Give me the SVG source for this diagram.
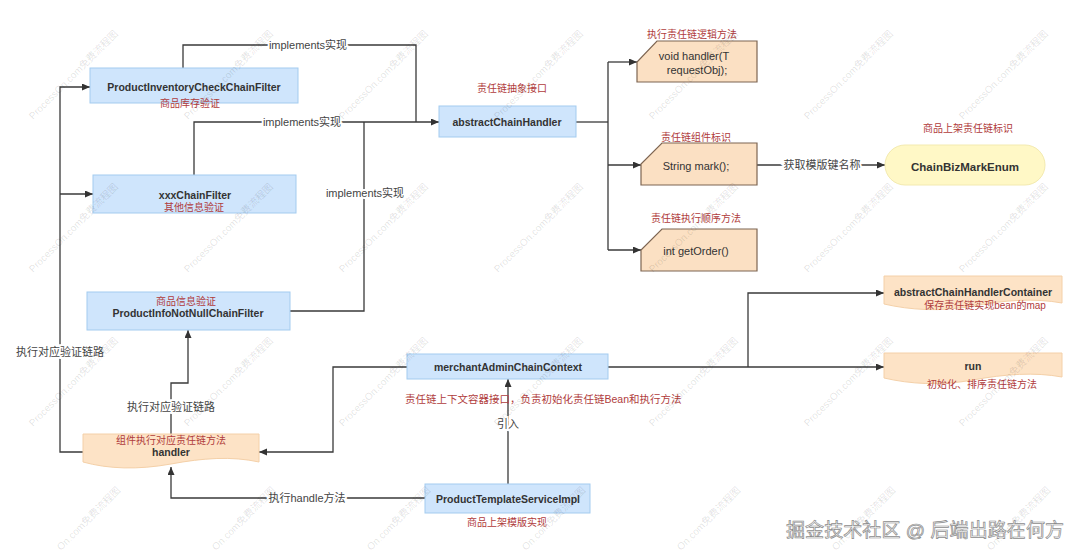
<svg xmlns="http://www.w3.org/2000/svg" width="1080" height="555" viewBox="0 0 1080 555">
<style>
text{font-family:"Liberation Sans","Noto Sans CJK SC",sans-serif}
.b{font-weight:bold;font-size:10.5px;fill:#333;text-anchor:middle}
.r{font-size:10px;fill:#b03c3c;text-anchor:middle}
.n{font-size:11px;fill:#333;text-anchor:middle}
.lb{font-size:11px;fill:#444;text-anchor:middle;stroke:#fff;stroke-width:4px;paint-order:stroke}
.blue{fill:#cfe5fc;stroke:#a3cbef;stroke-width:1}
.card{fill:#fbe0c3;stroke:#7d6552;stroke-width:1.2}
.doc{fill:#fde3c6;stroke:#f4d0a8;stroke-width:1}
.ln{fill:none;stroke:#3a3a3a;stroke-width:1.3}
.wm{font-size:10px;fill:#000;fill-opacity:0.12}
</style>
<defs>
<marker id="ar" markerWidth="9" markerHeight="8" refX="8" refY="3.5" orient="auto" markerUnits="userSpaceOnUse">
<path d="M0,0 L8,3.5 L0,7 z" fill="#333"/>
</marker>
</defs>
<rect width="1080" height="555" fill="#fff"/>

<g id="connectors">
<path class="ln" d="M183,68 V45 H416 V122"/>
<path class="ln" d="M194,175 V122 H439" marker-end="url(#ar)"/>
<path class="ln" d="M290,311 H364 V122"/>
<path class="ln" d="M576,122 H608"/>
<path class="ln" d="M608,62 V250"/>
<path class="ln" d="M608,62 H637" marker-end="url(#ar)"/>
<path class="ln" d="M608,165 H641" marker-end="url(#ar)"/>
<path class="ln" d="M608,250 H641" marker-end="url(#ar)"/>
<path class="ln" d="M757,165 H885" marker-end="url(#ar)"/>
<path class="ln" d="M83,452 H60 V87 H90" marker-end="url(#ar)"/>
<path class="ln" d="M60,194 H93" marker-end="url(#ar)"/>
<path class="ln" d="M171,434 V383 H188 V330" marker-end="url(#ar)"/>
<path class="ln" d="M425,498 H171 V467" marker-end="url(#ar)"/>
<path class="ln" d="M407,367 H333 V452 H259" marker-end="url(#ar)"/>
<path class="ln" d="M508,484 V379" marker-end="url(#ar)"/>
<path class="ln" d="M608,367 H884" marker-end="url(#ar)"/>
<path class="ln" d="M748,367 V293 H884" marker-end="url(#ar)"/>
<text class="lb" x="308" y="49">implements实现</text>
<text class="lb" x="302" y="126">implements实现</text>
<text class="lb" x="365" y="197">implements实现</text>
<text class="lb" x="822" y="169">获取模版键名称</text>
<text class="lb" x="60" y="356">执行对应验证链路</text>
<text class="lb" x="171" y="411">执行对应验证链路</text>
<text class="lb" x="307" y="502">执行handle方法</text>
<text class="lb" x="508" y="428">引入</text>
</g>

<g id="productInventoryCheckChainFilter">
<rect class="blue" x="90" y="68" width="208" height="35"/>
<text class="b" x="194" y="91">ProductInventoryCheckChainFilter</text>
<text class="r" x="190" y="107">商品库存验证</text>
</g>

<g id="xxxChainFilter">
<rect class="blue" x="93" y="175" width="203" height="38"/>
<text class="b" x="195" y="199">xxxChainFilter</text>
<text class="r" x="194" y="211">其他信息验证</text>
</g>

<g id="productInfoNotNullChainFilter">
<rect class="blue" x="87" y="292" width="203" height="38"/>
<text class="r" x="186" y="305">商品信息验证</text>
<text class="b" x="188" y="317">ProductInfoNotNullChainFilter</text>
</g>

<g id="abstractChainHandler">
<text class="r" x="512" y="92">责任链抽象接口</text>
<rect class="blue" x="439" y="106" width="137" height="31"/>
<text class="b" x="507" y="126">abstractChainHandler</text>
</g>

<g id="voidHandler">
<text class="r" x="692" y="38">执行责任链逻辑方法</text>
<path class="card" d="M657,41 H757 V82 H637 V62 Z"/>
<text class="n" x="694" y="60">void handler(T</text>
<text class="n" x="697" y="74">requestObj);</text>
</g>

<g id="stringMark">
<text class="r" x="696" y="141">责任链组件标识</text>
<path class="card" d="M662,143 H757 V185 H641 V164 Z"/>
<text class="n" x="696" y="170">String mark();</text>
</g>

<g id="getOrder">
<text class="r" x="696" y="222">责任链执行顺序方法</text>
<path class="card" d="M662,229 H757 V271 H641 V250 Z"/>
<text class="n" x="696" y="255">int getOrder()</text>
</g>

<g id="chainBizMarkEnum">
<text class="r" x="968" y="132">商品上架责任链标识</text>
<rect x="885" y="145" width="160" height="40" rx="20" fill="#fff8c6" stroke="#f3eab0" stroke-width="1"/>
<text class="b" x="965" y="171" style="font-size:11.5px">ChainBizMarkEnum</text>
</g>

<g id="abstractChainHandlerContainer">
<path class="doc" d="M884,276 H1062 V303 C1035,298 1005,300 973,306 C940,312 910,310 884,304 Z"/>
<text class="b" x="973" y="296">abstractChainHandlerContainer</text>
<text class="r" x="985" y="309">保存责任链实现bean的map</text>
</g>

<g id="run">
<path class="doc" d="M884,353 H1062 V377 C1035,372 1005,374 973,380 C940,386 910,384 884,378 Z"/>
<text class="b" x="973" y="370">run</text>
<text class="r" x="982" y="388">初始化、排序责任链方法</text>
</g>

<g id="merchantAdminChainContext">
<rect class="blue" x="407" y="354" width="201" height="25"/>
<text class="b" x="508" y="371">merchantAdminChainContext</text>
<text class="r" x="405" y="403" style="text-anchor:start;font-size:10.5px">责任链上下文容器接口，负责初始化责任链Bean和执行方法</text>
</g>

<g id="handler">
<path class="doc" d="M83,434 H259 V462 C232,456 203,458 171,464 C138,470 108,469 83,462 Z"/>
<text class="r" x="171" y="444">组件执行对应责任链方法</text>
<text class="b" x="171" y="456">handler</text>
</g>

<g id="productTemplateServiceImpl">
<rect class="blue" x="425" y="484" width="165" height="29"/>
<text class="b" x="508" y="503">ProductTemplateServiceImpl</text>
<text class="r" x="507" y="526">商品上架模版实现</text>
</g>

<g id="watermarks">
<text class="wm" x="33" y="120" transform="rotate(-45 33 120)">ProcessOn.com免费流程图</text>
<text class="wm" x="188" y="120" transform="rotate(-45 188 120)">ProcessOn.com免费流程图</text>
<text class="wm" x="343" y="120" transform="rotate(-45 343 120)">ProcessOn.com免费流程图</text>
<text class="wm" x="498" y="120" transform="rotate(-45 498 120)">ProcessOn.com免费流程图</text>
<text class="wm" x="653" y="120" transform="rotate(-45 653 120)">ProcessOn.com免费流程图</text>
<text class="wm" x="808" y="120" transform="rotate(-45 808 120)">ProcessOn.com免费流程图</text>
<text class="wm" x="963" y="120" transform="rotate(-45 963 120)">ProcessOn.com免费流程图</text>
<text class="wm" x="33" y="273" transform="rotate(-45 33 273)">ProcessOn.com免费流程图</text>
<text class="wm" x="188" y="273" transform="rotate(-45 188 273)">ProcessOn.com免费流程图</text>
<text class="wm" x="343" y="273" transform="rotate(-45 343 273)">ProcessOn.com免费流程图</text>
<text class="wm" x="498" y="273" transform="rotate(-45 498 273)">ProcessOn.com免费流程图</text>
<text class="wm" x="653" y="273" transform="rotate(-45 653 273)">ProcessOn.com免费流程图</text>
<text class="wm" x="808" y="273" transform="rotate(-45 808 273)">ProcessOn.com免费流程图</text>
<text class="wm" x="963" y="273" transform="rotate(-45 963 273)">ProcessOn.com免费流程图</text>
<text class="wm" x="33" y="427" transform="rotate(-45 33 427)">ProcessOn.com免费流程图</text>
<text class="wm" x="188" y="427" transform="rotate(-45 188 427)">ProcessOn.com免费流程图</text>
<text class="wm" x="343" y="427" transform="rotate(-45 343 427)">ProcessOn.com免费流程图</text>
<text class="wm" x="498" y="427" transform="rotate(-45 498 427)">ProcessOn.com免费流程图</text>
<text class="wm" x="653" y="427" transform="rotate(-45 653 427)">ProcessOn.com免费流程图</text>
<text class="wm" x="808" y="427" transform="rotate(-45 808 427)">ProcessOn.com免费流程图</text>
<text class="wm" x="963" y="427" transform="rotate(-45 963 427)">ProcessOn.com免费流程图</text>
<text class="wm" x="61" y="551" transform="rotate(-45 61 551)">On.com免费流程图</text>
<text class="wm" x="216" y="551" transform="rotate(-45 216 551)">On.com免费流程图</text>
<text class="wm" x="371" y="551" transform="rotate(-45 371 551)">On.com免费流程图</text>
<text class="wm" x="526" y="551" transform="rotate(-45 526 551)">On.com免费流程图</text>
<text class="wm" x="681" y="551" transform="rotate(-45 681 551)">On.com免费流程图</text>
<text class="wm" x="836" y="551" transform="rotate(-45 836 551)">On.com免费流程图</text>
<text class="wm" x="991" y="551" transform="rotate(-45 991 551)">On.com免费流程图</text>
<text x="786" y="537" style="font-size:19px;fill:#f6f6f6;stroke:#8c8c8c;stroke-width:0.7px" textLength="278">掘金技术社区 @ 后端出路在何方</text>
</g>
</svg>
